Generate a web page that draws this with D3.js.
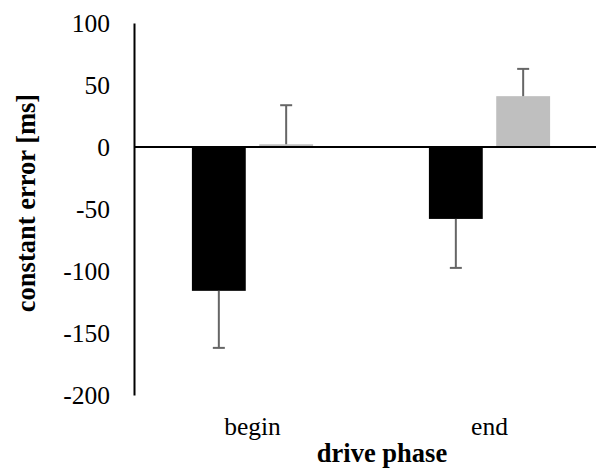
<!DOCTYPE html>
<html><head><meta charset="utf-8">
<script src="https://cdn.jsdelivr.net/npm/d3@7"></script>
<style>html,body{margin:0;padding:0;background:#fff;}svg{display:block;}</style>
</head><body><svg id="c" width="596" height="468"></svg>
<script>
const categories = ["begin", "end"];
const seriesNames = ["A", "B"];
const seriesA = [-116, -58];
const errorA = [46, 39.5];
const seriesB = [2.2, 41];
const errorB = [31.5, 22];
const yTicks = [-200, -150, -100, -50, 0, 50, 100];

const colors = {A: "#000000", B: "#bfbfbf"};
const svg = d3.select("#c");
const font = "'Liberation Serif','Times New Roman',serif";

const y = d3.scaleLinear().domain([-200, 100]).range([395, 23]);
const x0 = d3.scaleBand().domain(categories).range([134, 608]).paddingInner(0).paddingOuter(0);
const x1 = d3.scaleBand().domain(seriesNames).range([0, x0.bandwidth()]).paddingInner(0.2).paddingOuter(0.86);

const rows = categories.map((c, i) => ({cat: c, vals: [
  {s: "A", v: seriesA[i], e: errorA[i]},
  {s: "B", v: seriesB[i], e: errorB[i]}
]}));

const g = svg.selectAll("g.grp").data(rows).enter().append("g")
  .attr("transform", d => `translate(${x0(d.cat)},0)`);

g.selectAll("rect").data(d => d.vals).enter().append("rect")
  .attr("x", d => x1(d.s))
  .attr("width", x1.bandwidth())
  .attr("y", d => y(Math.max(0, d.v)))
  .attr("height", d => Math.abs(y(d.v) - y(0)))
  .attr("fill", d => colors[d.s]);

// error bars (outward direction only)
const eb = g.selectAll("g.eb").data(d => d.vals).enter().append("g");
eb.append("line")
  .attr("x1", d => x1(d.s) + x1.bandwidth()/2)
  .attr("x2", d => x1(d.s) + x1.bandwidth()/2)
  .attr("y1", d => y(d.v))
  .attr("y2", d => y(d.v + Math.sign(d.v) * d.e))
  .attr("stroke", "#666").attr("stroke-width", 2);
eb.append("line")
  .attr("x1", d => x1(d.s) + x1.bandwidth()/2 - 6)
  .attr("x2", d => x1(d.s) + x1.bandwidth()/2 + 6)
  .attr("y1", d => y(d.v + Math.sign(d.v) * d.e))
  .attr("y2", d => y(d.v + Math.sign(d.v) * d.e))
  .attr("stroke", "#666").attr("stroke-width", 2);

// zero line
svg.append("line").attr("x1", 134).attr("x2", 596)
  .attr("y1", y(0)).attr("y2", y(0))
  .attr("stroke", "#000").attr("stroke-width", 2);

// y axis
const yAxis = d3.axisLeft(y).tickValues(yTicks).tickSize(0).tickPadding(24).tickFormat(d3.format("d"));
const ya = svg.append("g").attr("transform", "translate(134,0)").call(yAxis);
ya.attr("font-family", font);
ya.select(".domain").attr("stroke", "#000").attr("stroke-width", 2);
ya.selectAll("text").attr("font-family", font).attr("font-size", 25.5).attr("fill", "#000")
  .text(d => d < 0 ? "-" + Math.abs(d) : d);

// x labels
svg.selectAll("text.cat").data(categories).enter().append("text")
  .attr("class", "cat")
  .attr("x", d => x0(d) + x0.bandwidth()/2)
  .attr("y", 435)
  .attr("text-anchor", "middle")
  .attr("font-family", font).attr("font-size", 25.5).attr("fill", "#000")
  .text(d => d);

svg.append("text").attr("x", 382).attr("y", 462).attr("text-anchor", "middle")
  .attr("font-family", font).attr("font-size", 26.5).attr("font-weight", "bold")
  .text("drive phase");

svg.append("text").attr("transform", "translate(35,203) rotate(-90)")
  .attr("text-anchor", "middle")
  .attr("font-family", font).attr("font-size", 26.5).attr("font-weight", "bold")
  .text("constant error [ms]");
</script></body></html>
